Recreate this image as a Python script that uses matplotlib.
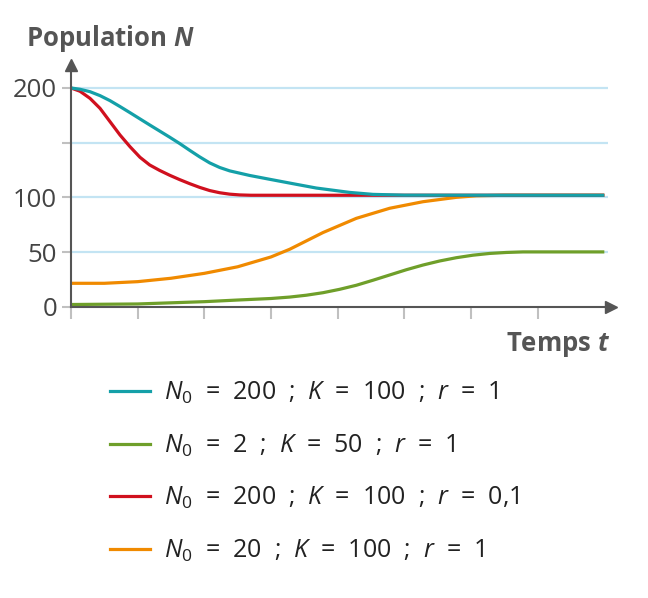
import matplotlib.pyplot as plt
from matplotlib.lines import Line2D

plt.rcParams['font.family'] = ['Open Sans', 'DejaVu Sans']
plt.rcParams['mathtext.fontset'] = 'custom'
plt.rcParams['mathtext.rm'] = 'Open Sans'
plt.rcParams['mathtext.it'] = 'Open Sans:italic'
plt.rcParams['mathtext.bf'] = 'Open Sans:bold'
plt.rcParams['mathtext.bfit'] = 'Open Sans:italic:bold'

# courbes (t en graduations, N)
t_teal = [0, 0.135, 0.285, 0.435, 0.585, 0.735, 0.885, 1.035, 1.18, 1.33, 1.48, 1.63,
          1.78, 1.93, 2.08, 2.23, 2.38, 2.68, 2.98, 3.38, 3.68, 4.18, 4.53, 5.0, 8.0]
n_teal = [200, 198.8, 196.6, 193, 188.4, 183, 177.4, 171.7, 166.2, 160.6, 155, 149.2,
          143, 137, 131.5, 127.3, 124.2, 120, 116.5, 111.9, 108.5, 104.5, 102.7, 102, 101.9]

t_red = [0, 0.135, 0.285, 0.435, 0.585, 0.735, 0.885, 1.035, 1.18, 1.33, 1.48, 1.63,
         1.78, 1.93, 2.08, 2.23, 2.38, 2.53, 2.7, 8.0]
n_red = [200, 197, 190.5, 181.4, 169.2, 157, 146.3, 136.6, 129.6, 124.6, 120.2, 116.2,
         112.5, 109.1, 106.2, 104.2, 102.9, 102.2, 101.9, 101.9]

t_orange = [0, 0.5, 1.0, 1.5, 2.0, 2.5, 3.0, 3.28, 3.78, 4.28, 4.78, 5.28,
            5.78, 6.08, 6.5, 8.0]
n_orange = [21.4, 21.4, 22.9, 26, 30.5, 36.5, 45.5, 52.5, 67.8, 80.8, 90, 96,
            100, 101.4, 101.9, 101.9]

t_green = [0, 1.0, 2.0, 2.5, 3.0, 3.28, 3.53, 3.78, 4.03, 4.28, 4.53, 4.78, 5.03,
           5.28, 5.53, 5.78, 6.03, 6.28, 6.53, 6.78, 8.0]
n_green = [2, 2.5, 4.6, 6.1, 7.5, 8.8, 10.5, 12.8, 15.9, 19.6, 24.2, 29, 33.8,
           38.1, 41.8, 44.8, 47.1, 48.7, 49.6, 50.1, 50.1]

labels = [r"$N_0$  =  200  ;  $K$  =  100  ;  $r$  =  1",
          r"$N_0$  =  2  ;  $K$  =  50  ;  $r$  =  1",
          r"$N_0$  =  200  ;  $K$  =  100  ;  $r$  =  0,1",
          r"$N_0$  =  20  ;  $K$  =  100  ;  $r$  =  1"]
colors = ['#14a0a8', '#6f9f2a', '#d0101e', '#f08a00']

grid_vals = [50, 100, 150, 200]
ytick_vals = [0, 50, 100, 150, 200]
ytick_labels = ['0', '50', '100', '', '200']
xtick_vals = [0, 1, 2, 3, 4, 5, 6, 7]

W, H = 648, 598
fig = plt.figure(figsize=(W / 100, H / 100), dpi=100)
ax = fig.add_axes([71 / W, 1 - 306.7 / H, 540 / W, 241.7 / H])

ax.hlines(grid_vals, 0, 8.06, color='#c3e4f3', lw=1.6, zorder=1)

kw = dict(lw=2.3, solid_joinstyle='round', solid_capstyle='butt')
ax.plot(t_green, n_green, color=colors[1], zorder=3, **kw)
ax.plot(t_orange, n_orange, color=colors[3], zorder=3, **kw)
ax.plot(t_red, n_red, color=colors[2], zorder=3, **kw)
ax.plot(t_teal, n_teal, color=colors[0], zorder=4, **kw)

ax.set_xlim(0, 8.1)
ax.set_ylim(0, 221)
for s in ['top', 'right']:
    ax.spines[s].set_visible(False)
for s in ['left', 'bottom']:
    ax.spines[s].set_color('#555555')
    ax.spines[s].set_linewidth(1.5)
    ax.spines[s].set_zorder(5)
ax.plot(1, 0, '>', color='#555555', ms=8, transform=ax.get_yaxis_transform(), clip_on=False, zorder=6)
ax.plot(0, 1, '^', color='#555555', ms=8, transform=ax.get_xaxis_transform(), clip_on=False, zorder=6)

ax.set_xticks(xtick_vals)
ax.set_xticklabels([])
ax.tick_params(axis='x', length=8.5, width=1.5, color='#c0c0c0', direction='out')
ax.set_yticks(ytick_vals)
ax.set_yticklabels(ytick_labels)
ax.tick_params(axis='y', length=6.5, width=1.5, color='#c0c0c0', direction='out',
               labelsize=18.5, labelcolor='#444444', pad=3.5)

fig.text(26 / W, 1 - 46 / H, r"Population $\mathbfit{N}$", fontsize=18.5, fontweight='bold',
         color='#555555', va='baseline', ha='left')
fig.text(610 / W, 1 - 351 / H, r"Temps $\mathbfit{t}$", fontsize=18.5, fontweight='bold',
         color='#555555', va='baseline', ha='right')

# légende
for i, (lab, c) in enumerate(zip(labels, colors)):
    y = 391 + 52.5 * i
    fig.add_artist(Line2D([110 / W, 150 / W], [1 - y / H, 1 - y / H], color=c, lw=2.3))
    fig.text(164 / W, 1 - (y + 9) / H, lab, fontsize=18, color='#222222',
             va='baseline', ha='left')

fig.savefig('out.png', dpi=100)
